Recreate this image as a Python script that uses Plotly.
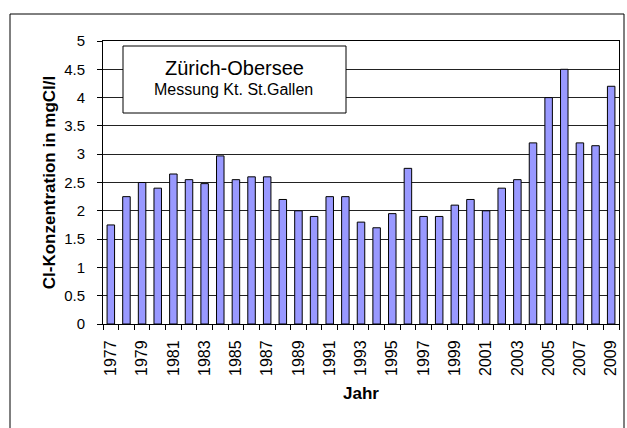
import plotly.graph_objects as go

years = list(range(1977, 2010))
values = [1.75, 2.25, 2.5, 2.4, 2.65, 2.55, 2.48, 2.97, 2.55, 2.6, 2.6,
          2.2, 2.0, 1.9, 2.25, 2.25, 1.8, 1.7, 1.95, 2.75, 1.9, 1.9,
          2.1, 2.2, 2.0, 2.4, 2.55, 3.2, 4.0, 4.5, 3.2, 3.15, 4.2]
x_tick_years = [y for y in years if y % 2 == 1]
y_ticks = [0, 0.5, 1, 1.5, 2, 2.5, 3, 3.5, 4, 4.5, 5]

W, H = 627, 428
L, R, T, B = 103, 8, 41, 104
pw, ph = W - L - R, H - T - B

fig = go.Figure()
fig.add_trace(go.Bar(
    x=years, y=values,
    marker=dict(color="#9999FF", line=dict(color="black", width=1)),
    width=0.48,
))

font = "Liberation Sans, Arial, sans-serif"
fig.update_layout(
    width=W, height=H,
    margin=dict(l=L, r=R, t=T, b=B),
    paper_bgcolor="white", plot_bgcolor="white",
    showlegend=False,
    font=dict(family=font, color="black", size=13),
    xaxis=dict(
        range=[1976.5, 2009.5],
        tickmode="array", tickvals=x_tick_years,
        ticktext=[str(y) for y in x_tick_years],
        tickangle=-90, ticks="", showgrid=False,
        showline=True, linecolor="black", linewidth=1, mirror=True,
        tickfont=dict(size=16, family=font),
        ticklabelstandoff=9,
        minor=dict(tickmode="linear", tick0=1976.5, dtick=1,
                   ticks="outside", ticklen=5, tickcolor="black", showgrid=False),
        title=dict(text="<b>Jahr</b>", font=dict(size=17, family=font), standoff=12),
        zeroline=False,
    ),
    yaxis=dict(
        range=[0, 5], tickmode="array", tickvals=y_ticks,
        ticktext=[f"{v:g}" for v in y_ticks],
        ticks="outside", ticklen=5, tickcolor="black",
        showgrid=True, gridcolor="#222", gridwidth=1,
        showline=True, linecolor="black", linewidth=1, mirror=True,
        tickfont=dict(size=15, family=font),
        ticklabelstandoff=9,
        title=dict(text="<b>Cl-Konzentration in mgCl/l</b>", font=dict(size=17, family=font), standoff=4),
        zeroline=False,
    ),
)

def px(xp):
    return (xp - L) / pw

def py(yp):
    return (H - B - yp) / ph

# outer chart border
fig.add_shape(type="rect", xref="paper", yref="paper",
              x0=px(10), x1=px(624), y0=py(440), y1=py(14),
              line=dict(color="black", width=1), fillcolor="rgba(0,0,0,0)", layer="above")

# title box
fig.add_shape(type="rect", xref="paper", yref="paper",
              x0=px(123), x1=px(346), y0=py(113), y1=py(46),
              line=dict(color="black", width=1), fillcolor="white", layer="above")
fig.add_annotation(xref="paper", yref="paper", x=px(234), y=py(68),
                   xanchor="center", yanchor="middle",
                   text="Zürich-Obersee", showarrow=False,
                   font=dict(size=20, family=font, color="black"))
fig.add_annotation(xref="paper", yref="paper", x=px(233), y=py(89),
                   xanchor="center", yanchor="middle",
                   text="Messung Kt. St.Gallen", showarrow=False,
                   font=dict(size=16, family=font, color="black"))

fig.write_html("out.html", config={"displayModeBar": False},
               post_script="document.body.style.margin='0';")
